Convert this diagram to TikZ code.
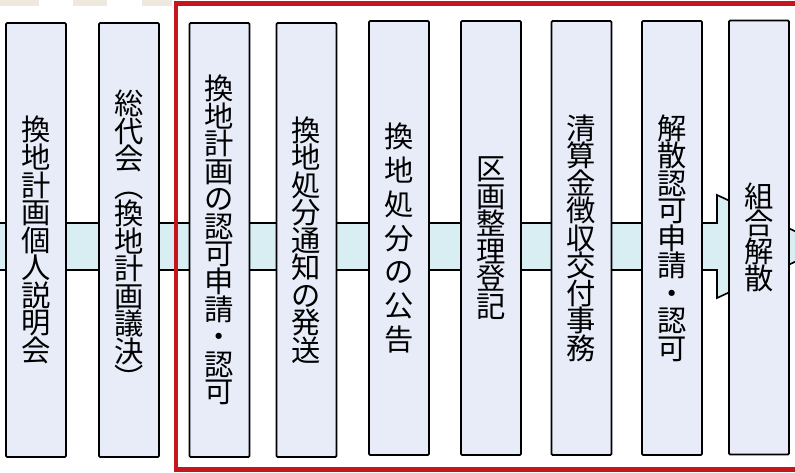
\documentclass[tikz,border=0pt]{standalone}
\usepackage{fontspec}
\newfontfamily\jp{Noto Sans CJK JP}

\definecolor{boxfill}{HTML}{E7ECF8}
\definecolor{bandfill}{HTML}{D8EEF2}
\definecolor{framered}{HTML}{C4161C}
\definecolor{tabbeige}{HTML}{EFE8DF}

% one character per line, for vertical writing
\makeatletter
\newcommand\tate[2][23.5pt]{\vbox{\baselineskip=#1\relax\lineskiplimit=-20pt\relax\tate@loop#2\relax}}
\def\tate@loop#1{\ifx#1\relax\else\hbox to 25pt{\hss#1\hss}\expandafter\tate@loop\fi}
\makeatother

\begin{document}
\begin{tikzpicture}[x=0.03cm,y=-0.03cm]

      \useasboundingbox (0,0) rectangle (795,472);
      \clip (0,0) rectangle (795,472);

      % tabs cut off at the top
      \fill[tabbeige] (0,0) rectangle (39,6);
      \fill[tabbeige] (73,0) rectangle (107,6);
      \fill[tabbeige] (142,0) rectangle (172,6);

      % flow band behind the steps
      \filldraw[fill=bandfill,draw=black,line width=1.4pt]
        (-5,223) -- (717,223) -- (717,195) -- (828,246.5)
        -- (717,298) -- (717,270) -- (-5,270) -- cycle;

      \begin{scope}[every node/.style={draw=black,line width=1.6pt,fill=boxfill,
          minimum width=51.2pt,minimum height=370.5pt,inner sep=0pt,rounded corners=1pt,
          font=\jp\fontsize{25pt}{25pt}\selectfont}]
        \node (1) at (36,240)    {\tate{換地計画個人説明会}};
        \node (2) at (129,240)   {\tate{総代会︵換地計画議決︶}};
        \node (3) at (219.5,240) {\tate{換地計画の認可申請・認可}};
        \node (4) at (306.5,240) {\tate{換地処分通知の発送}};
        \node (5) at (399,238)   {\tate[29pt]{換地処分の公告}};
        \node (6) at (491,238)   {\tate{区画整理登記}};
        \node (7) at (581.5,238) {\tate{清算金徴収交付事務}};
        \node (8) at (672,238)   {\tate{解散認可申請・認可}};
        \node (9) at (759,237.5) {\tate{組合解散}};
      \end{scope}

      % steps handled after the plan is approved
      \draw[framered,line width=4.2pt] (176,3.5) rectangle (805,469.5);

    \end{tikzpicture}
\end{document}
